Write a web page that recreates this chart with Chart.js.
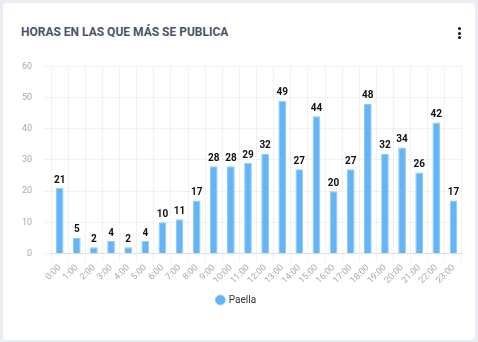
<!DOCTYPE html>
<html>
<head>
<meta charset="utf-8">
<script src="https://cdn.jsdelivr.net/npm/chart.js@4.4.0/dist/chart.umd.min.js"></script>
<style>
  body { margin: 0; background: #eaeef3; font-family: Roboto, sans-serif; }
  .card { position: absolute; left: 3px; top: 3px; width: 472px; height: 337px; background: #fff; border-radius: 4px; }
  .title { position: absolute; left: 18px; top: 22px; font-size: 12px; font-weight: bold; color: #4a5568; }
  .menu { position: absolute; left: 455px; top: 24px; width: 3px; }
  .menu span { display: block; width: 3px; height: 3px; background: #111; border-radius: 50%; margin-bottom: 1.5px; }
  #wrap { position: absolute; left: 8px; top: 47px; width: 462px; height: 265px; }
</style>
</head>
<body>
<div class="card">
  <div class="title">HORAS EN LAS QUE MÁS SE PUBLICA</div>
  <div class="menu"><span></span><span></span><span></span></div>
  <div id="wrap"><canvas id="myChart"></canvas></div>
</div>
<script>
const hours = ['0:00', '1:00', '2:00', '3:00', '4:00', '5:00', '6:00', '7:00', '8:00', '9:00', '10:00', '11:00',
  '12:00', '13:00', '14:00', '15:00', '16:00', '17:00', '18:00', '19:00', '20:00', '21:00', '22:00', '23:00']
const paella = [21, 5, 2, 4, 2, 4, 10, 11, 17, 28, 28, 29, 32, 49, 27, 44, 20, 27, 48, 32, 34, 26, 42, 17]
const yTicks = [0, 10, 20, 30, 40, 50, 60]

// numbers on top of each bar
const barLabels = {
  id: 'barLabels',
  afterDatasetsDraw(chart) {
    const ctx = chart.ctx
    ctx.save()
    ctx.font = 'bold 10px Roboto, sans-serif'
    ctx.fillStyle = '#111'
    ctx.textAlign = 'center'
    ctx.textBaseline = 'bottom'
    chart.getDatasetMeta(0).data.forEach((bar, i) => {
      ctx.fillText(paella[i], bar.x, bar.y - 3)
    })
    ctx.restore()
  }
}

new Chart(document.getElementById('myChart').getContext('2d'), {
  type: 'bar',
  data: {
    labels: hours,
    datasets: [{
      label: 'Paella',
      data: paella,
      backgroundColor: '#64b5f6',
      borderColor: '#8cc8f8',
      borderWidth: 1,
      barPercentage: 0.5,
      categoryPercentage: 0.9
    }]
  },
  options: {
    responsive: true,
    maintainAspectRatio: false,
    animation: false,
    layout: { padding: { top: 10, right: 11 } },
    plugins: {
      legend: {
        position: 'bottom',
        labels: {
          usePointStyle: true,
          pointStyle: 'circle',
          boxWidth: 7,
          boxHeight: 7,
          color: '#333',
          font: { family: 'Roboto', size: 10 },
          padding: 8
        }
      },
      tooltip: { enabled: false }
    },
    scales: {
      x: {
        grid: { color: 'rgba(0,0,0,0.05)', offset: true },
        border: { color: 'rgba(0,0,0,0.08)' },
        ticks: {
          color: '#aaa',
          font: { family: 'Roboto', size: 9 },
          padding: 1,
          minRotation: 45,
          maxRotation: 45,
          autoSkip: false
        }
      },
      y: {
        min: 0,
        max: 60,
        afterBuildTicks: axis => { axis.ticks = yTicks.map(v => ({ value: v })) },
        grid: { color: 'rgba(0,0,0,0.05)' },
        border: { display: false },
        ticks: {
          color: '#aaa',
          font: { family: 'Roboto', size: 9 },
          padding: 11
        }
      }
    }
  },
  plugins: [barLabels]
})
</script>
</body>
</html>
